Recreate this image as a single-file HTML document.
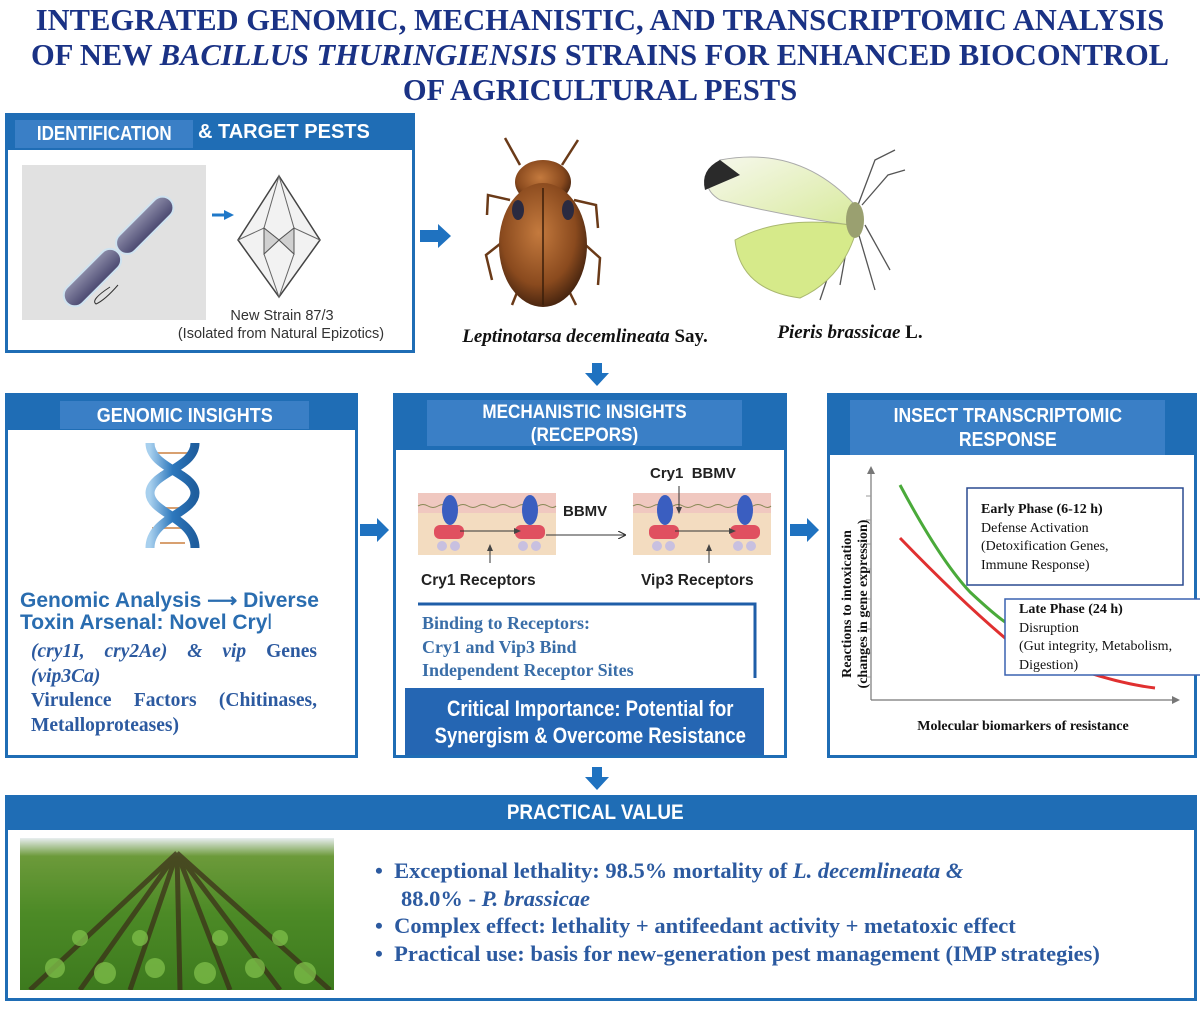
<!DOCTYPE html>
<html><head><meta charset="utf-8"><style>
*{margin:0;padding:0;box-sizing:border-box}
body{width:1200px;height:1013px;background:#fff;position:relative;overflow:hidden;font-family:"Liberation Sans",sans-serif}
.a{position:absolute}
.title{left:0;width:1200px;text-align:center;font:bold 30.5px/36px "Liberation Serif",serif;color:#1a3285;white-space:nowrap}
.box{position:absolute;border:3px solid #1f6db5;background:#fff}
.hd{position:absolute;background:#1f6db5}
.in{position:absolute;background:#3a7fc6;color:#fff;text-align:center;font-family:"Liberation Sans",sans-serif;font-weight:bold}
.serif{font-family:"Liberation Serif",serif}
</style></head><body>
<div class="a title" style="top:2px">INTEGRATED GENOMIC, MECHANISTIC, AND TRANSCRIPTOMIC ANALYSIS</div>
<div class="a title" style="top:37px">OF NEW <i>BACILLUS THURINGIENSIS</i> STRAINS FOR ENHANCED BIOCONTROL</div>
<div class="a title" style="top:72px">OF AGRICULTURAL PESTS</div>

<!-- Box 1 -->
<div class="box" style="left:5px;top:113px;width:410px;height:240px"></div>
<div class="hd" style="left:5px;top:113px;width:410px;height:37px"></div>
<div class="in" style="left:15px;top:120px;width:178px;height:28px;font-size:20px;line-height:29px"><span style="display:inline-block;transform:scaleX(.85)">IDENTIFICATION</span></div>
<div class="a" style="left:198px;top:121px;color:#fff;font:bold 20px 'Liberation Sans',sans-serif">&amp; TARGET PESTS</div>
<svg class="a" style="left:0;top:0" width="1200" height="1013">
 <defs>
  <linearGradient id="bac" x1="0" x2="0" y1="0" y2="1"><stop offset="0" stop-color="#8c8ca8"/><stop offset="1" stop-color="#4a4870"/></linearGradient>
  <radialGradient id="beet" cx=".45" cy=".4" r=".6"><stop offset="0" stop-color="#c47a3e"/><stop offset=".7" stop-color="#8a4a1e"/><stop offset="1" stop-color="#4a2610"/></radialGradient>
  <linearGradient id="wing" x1="0" x2="1" y1="0" y2="1"><stop offset="0" stop-color="#f7f8ee"/><stop offset="1" stop-color="#d8ea9c"/></linearGradient>
  <linearGradient id="dna" x1="0" x2="1"><stop offset="0" stop-color="#a8d0ee"/><stop offset=".5" stop-color="#2d78bd"/><stop offset="1" stop-color="#1f5e9e"/></linearGradient>
  <linearGradient id="field" x1="0" x2="0" y1="0" y2="1"><stop offset="0" stop-color="#e8eef0"/><stop offset=".12" stop-color="#6c9a3a"/><stop offset=".5" stop-color="#4c8a26"/><stop offset="1" stop-color="#3d7a1e"/></linearGradient>
  <marker id="ah" markerWidth="8" markerHeight="8" refX="7" refY="4" orient="auto"><path d="M0,0 L8,4 L0,8" fill="none" stroke="#333" stroke-width="1.2"/></marker>
  <marker id="ar" markerWidth="8" markerHeight="8" refX="6" refY="4" orient="auto"><path d="M0,1 L7,4 L0,7z" fill="#444"/></marker>
 </defs>
 <rect x="22" y="165" width="184" height="155" fill="#e1e1e1"/>
 <g transform="rotate(-45 120 250)">
  <rect x="45" y="239" width="72" height="22" rx="11" fill="url(#bac)" stroke="#cfe3f0" stroke-width="2"/>
  <rect x="119" y="239" width="72" height="22" rx="11" fill="url(#bac)" stroke="#cfe3f0" stroke-width="2"/>
 </g>
 <path d="M110,287 Q90,300 96,304 Q105,300 118,285" fill="none" stroke="#333" stroke-width="1"/>
 <path d="M212,215 L226,215" stroke="#1f78c8" stroke-width="3"/><path d="M224,210 L234,215 L224,220z" fill="#1f78c8"/>
 <path d="M279,176 L320,240 L279,297 L238,240z" fill="#f2f2f2" stroke="#444" stroke-width="1.5"/>
 <path d="M279,176 L264,228 L279,240 L294,228z M238,240 L264,228 L264,254 L279,297 L294,254 L294,228 L320,240 M264,254 L279,240 L294,254" fill="none" stroke="#666" stroke-width="1"/>
 <path d="M264,228 L279,240 L264,254z M294,228 L279,240 L294,254z" fill="#d0d0d0" stroke="#555"/>
 <path d="M420,230 L438,230 L438,224 L451,236 L438,248 L438,242 L420,242z" fill="#1f72c0"/>
 <g stroke="#6a3a18" stroke-width="2.5" fill="none">
  <path d="M520,165 L505,138"/><path d="M562,165 L578,140"/>
  <path d="M510,200 L488,195 L487,215"/><path d="M574,200 L596,205 L598,228"/>
  <path d="M505,240 L486,255 L492,280"/><path d="M580,240 L600,258 L598,285"/>
  <path d="M520,285 L512,305"/><path d="M566,285 L576,305"/>
 </g>
 <ellipse cx="543" cy="182" rx="28" ry="22" fill="url(#beet)"/>
 <ellipse cx="543" cy="245" rx="44" ry="62" fill="url(#beet)"/>
 <path d="M543,188 L543,305" stroke="#3a1e0a" stroke-width="1.5"/>
 <ellipse cx="518" cy="210" rx="6" ry="10" fill="#2a2a40"/><ellipse cx="568" cy="210" rx="6" ry="10" fill="#2a2a40"/>
 <g stroke="#555" stroke-width="1.3" fill="none">
  <path d="M858,205 L875,160 L895,150"/><path d="M862,205 L888,175 L905,170"/>
  <path d="M850,230 L840,285"/><path d="M858,232 L875,290"/><path d="M865,225 L890,270"/><path d="M845,226 L820,300"/>
 </g>
 <path d="M855,205 Q800,145 720,160 Q695,185 720,200 Q780,215 850,225z" fill="url(#wing)" stroke="#aaa"/>
 <path d="M720,160 Q700,170 705,190 L740,175z" fill="#2a2a2a"/>
 <path d="M850,225 Q780,215 735,240 Q740,290 800,298 Q840,280 855,235z" fill="#d6ea8a" stroke="#aab870"/>
 <ellipse cx="855" cy="220" rx="9" ry="18" fill="#9aa070"/>
</svg>
<div class="a" style="left:200px;top:308px;width:164px;text-align:center;font-size:14.5px;color:#333">New Strain 87/3</div>
<div class="a" style="left:150px;top:326px;width:262px;text-align:center;font-size:14.5px;color:#333">(Isolated from Natural Epizotics)</div>
<div class="a serif" style="left:430px;top:326px;width:310px;text-align:center;font-size:19px;font-weight:bold;color:#111"><i>Leptinotarsa decemlineata</i> Say.</div>
<div class="a serif" style="left:740px;top:322px;width:220px;text-align:center;font-size:19px;font-weight:bold;color:#111"><i>Pieris brassicae</i> L.</div>

<svg class="a" style="left:584px;top:363px" width="26" height="24"><path d="M8,0 L18,0 L18,10 L25,10 L13,23 L1,10 L8,10z" fill="#1f72c0"/></svg>
<svg class="a" style="left:584px;top:767px" width="26" height="24"><path d="M8,0 L18,0 L18,10 L25,10 L13,23 L1,10 L8,10z" fill="#1f72c0"/></svg>
<svg class="a" style="left:360px;top:518px" width="30" height="24"><path d="M0,6 L17,6 L17,0 L29,12 L17,24 L17,18 L0,18z" fill="#1f72c0"/></svg>
<svg class="a" style="left:790px;top:518px" width="30" height="24"><path d="M0,6 L17,6 L17,0 L29,12 L17,24 L17,18 L0,18z" fill="#1f72c0"/></svg>

<!-- Genomic -->
<div class="box" style="left:5px;top:393px;width:353px;height:365px"></div>
<div class="hd" style="left:5px;top:393px;width:353px;height:37px"></div>
<div class="in" style="left:60px;top:401px;width:249px;height:28px;font-size:20px;line-height:30px"><span style="display:inline-block;transform:scaleX(.9)">GENOMIC INSIGHTS</span></div>
<svg class="a" style="left:130px;top:438px" width="90" height="120">
 <g stroke="#d8a070" stroke-width="2"><line x1="22" y1="15" x2="62" y2="15"/><line x1="30" y1="35" x2="55" y2="35"/><line x1="30" y1="70" x2="55" y2="70"/><line x1="22" y1="90" x2="62" y2="90"/><line x1="30" y1="105" x2="55" y2="105"/></g>
 <path d="M20,5 C20,30 65,35 65,55 C65,75 20,80 20,110" fill="none" stroke="url(#dna)" stroke-width="9"/>
 <path d="M65,5 C65,30 20,35 20,55 C20,75 65,80 65,110" fill="none" stroke="url(#dna)" stroke-width="9"/>
</svg>
<div class="a" style="left:20px;top:590px;font-size:21px;font-weight:bold;color:#2a6db0;line-height:22px;white-space:nowrap">Genomic Analysis ⟶ Diverse<br>Toxin Arsenal: Novel Cry<span style="font-weight:normal">l</span></div>
<div class="a serif" style="left:31px;top:640px;width:286px;font-size:19.5px;font-weight:bold;color:#2c5aa0;line-height:24.5px;text-align:justify;text-align-last:left"><i>(cry1I, cry2Ae) &amp; vip</i> Genes <i>(vip3Ca)</i><br><span style="display:inline-block;width:286px;text-align:justify;text-align-last:justify">Virulence Factors (Chitinases,</span><br>Metalloproteases)</div>

<!-- Mechanistic -->
<div class="box" style="left:393px;top:393px;width:394px;height:365px"></div>
<div class="hd" style="left:393px;top:393px;width:394px;height:57px"></div>
<div class="in" style="left:427px;top:400px;width:315px;height:46px;font-size:19px;line-height:23px;padding-top:1px"><span style="display:inline-block;transform:scaleX(.9)">MECHANISTIC INSIGHTS<br>(RECEPORS)</span></div>
<svg class="a" style="left:0;top:0" width="1200" height="1013">
 <g id="mem">
  <rect x="418" y="493" width="138" height="62" fill="#f3dcc0"/>
  <rect x="418" y="493" width="138" height="20" fill="#f0c8c0"/>
  <path d="M418,506 q5,-3 10,0 t10,0 t10,0 t10,0 t10,0 t10,0 t10,0 t10,0 t10,0 t10,0 t10,0 t10,0 t10,0 t8,0" fill="none" stroke="#885" stroke-width="1"/>
  <ellipse cx="450" cy="510" rx="8" ry="15" fill="#3a5ec0"/><ellipse cx="530" cy="510" rx="8" ry="15" fill="#3a5ec0"/>
  <rect x="434" y="525" width="30" height="14" rx="6" fill="#e05060"/><rect x="515" y="525" width="30" height="14" rx="6" fill="#e05060"/>
  <circle cx="442" cy="546" r="5" fill="#c8c0e0"/><circle cx="455" cy="546" r="5" fill="#c8c0e0"/><circle cx="523" cy="546" r="5" fill="#c8c0e0"/><circle cx="536" cy="546" r="5" fill="#c8c0e0"/>
 </g>
 <use href="#mem" transform="translate(215,0)"/>
 <line x1="460" y1="531" x2="520" y2="531" stroke="#333" marker-end="url(#ar)"/>
 <line x1="546" y1="535" x2="625" y2="535" stroke="#333" marker-end="url(#ah)"/>
 <line x1="675" y1="531" x2="735" y2="531" stroke="#333" marker-end="url(#ar)"/>
 <line x1="490" y1="563" x2="490" y2="545" stroke="#333" marker-end="url(#ar)"/>
 <line x1="709" y1="563" x2="709" y2="545" stroke="#333" marker-end="url(#ar)"/>
 <line x1="679" y1="486" x2="679" y2="513" stroke="#333" marker-end="url(#ar)"/>
 <path d="M418,604 L755,604 L755,678" fill="none" stroke="#1f5ea8" stroke-width="3"/>
</svg>
<div class="a" style="left:563px;top:503px;font-size:15px;font-weight:bold;color:#222">BBMV</div>
<div class="a" style="left:650px;top:465px;font-size:15px;font-weight:bold;color:#222">Cry1&nbsp;&nbsp;BBMV</div>
<div class="a" style="left:421px;top:572px;font-size:15.5px;font-weight:bold;color:#222">Cry1 Receptors</div>
<div class="a" style="left:641px;top:572px;font-size:15.5px;font-weight:bold;color:#222">Vip3 Receptors</div>
<div class="a serif" style="left:422px;top:612px;font-size:18px;font-weight:bold;color:#3a6ea8;line-height:23.5px">Binding to Receptors:<br>Cry1 and Vip3 Bind<br>Independent Receptor Sites</div>
<div class="a" style="left:405px;top:688px;width:359px;height:67px;background:#2566b3;color:#fff;text-align:center;font-size:22px;font-weight:bold;line-height:27px;padding-top:7px;white-space:nowrap"><span style="display:inline-block;transform:scaleX(.84)">Critical Importance: Potential for<br>Synergism &amp; Overcome Resistance</span></div>

<!-- Transcriptomic -->
<div class="box" style="left:827px;top:393px;width:370px;height:365px"></div>
<div class="hd" style="left:827px;top:393px;width:370px;height:62px"></div>
<div class="in" style="left:850px;top:400px;width:315px;height:55px;font-size:20px;line-height:24px;padding-top:4px"><span style="display:inline-block;transform:scaleX(.88)">INSECT TRANSCRIPTOMIC<br>RESPONSE</span></div>
<svg class="a" style="left:0;top:0" width="1200" height="1013">
 <path d="M871,700 L871,472" stroke="#777" stroke-width="1.2"/><path d="M867,474 L871,466 L875,474z" fill="#777"/>
 <path d="M871,700 L1175,700" stroke="#777" stroke-width="1.2"/><path d="M1172,696 L1180,700 L1172,704z" fill="#777"/>
 <g stroke="#999"><line x1="866" y1="496" x2="871" y2="496"/><line x1="866" y1="520" x2="871" y2="520"/><line x1="866" y1="544" x2="871" y2="544"/><line x1="866" y1="569" x2="871" y2="569"/><line x1="866" y1="599" x2="871" y2="599"/><line x1="866" y1="629" x2="871" y2="629"/><line x1="866" y1="653" x2="871" y2="653"/><line x1="866" y1="677" x2="871" y2="677"/></g>
 <path d="M900,485 Q940,560 970,592 Q1000,620 1010,625" fill="none" stroke="#4aaa3a" stroke-width="3"/>
 <path d="M900,538 Q960,600 1005,638 Q1090,680 1155,688" fill="none" stroke="#e03030" stroke-width="3"/>
 <rect x="967" y="488" width="216" height="97" fill="#fff" stroke="#2a4a90" stroke-width="1.5"/>
 <rect x="1005" y="599" width="196" height="76" fill="#fff" stroke="#3a62b0" stroke-width="1.5"/>
 <text transform="translate(851,604) rotate(-90)" text-anchor="middle" font-family="Liberation Serif,serif" font-weight="bold" font-size="14" fill="#111">Reactions to intoxication</text>
 <text transform="translate(867,604) rotate(-90)" text-anchor="middle" font-family="Liberation Serif,serif" font-weight="bold" font-size="14" fill="#111">(changes in gene expression)</text>
</svg>
<div class="a serif" style="left:981px;top:501px;font-size:14px;line-height:18.5px;color:#111"><b>Early Phase (6-12 h)</b><br>Defense Activation<br>(Detoxification Genes,<br>Immune Response)</div>
<div class="a serif" style="left:1019px;top:601px;font-size:14px;line-height:18.5px;color:#111"><b>Late Phase (24 h)</b><br>Disruption<br>(Gut integrity, Metabolism,<br>Digestion)</div>
<div class="a serif" style="left:880px;top:719px;width:286px;text-align:center;font-size:14px;font-weight:bold;color:#111">Molecular biomarkers of resistance</div>

<!-- Practical -->
<div class="box" style="left:5px;top:795px;width:1192px;height:206px"></div>
<div class="hd" style="left:5px;top:795px;width:1192px;height:35px"></div>
<div class="a" style="left:0;top:801px;width:1190px;text-align:center;color:#fff;font-size:21px;font-weight:bold"><span style="display:inline-block;transform:scaleX(.9)">PRACTICAL VALUE</span></div>
<svg class="a" style="left:20px;top:838px" width="314" height="152">
 <rect width="314" height="152" fill="url(#field)"/>
 <g stroke="#3a2a18" stroke-width="5" opacity=".7">
  <line x1="157" y1="15" x2="60" y2="152"/><line x1="157" y1="15" x2="110" y2="152"/><line x1="157" y1="15" x2="160" y2="152"/><line x1="157" y1="15" x2="210" y2="152"/><line x1="157" y1="15" x2="260" y2="152"/><line x1="157" y1="15" x2="10" y2="152"/><line x1="157" y1="15" x2="310" y2="152"/>
 </g>
 <g fill="#7cbc48" opacity=".8"><circle cx="35" cy="130" r="10"/><circle cx="85" cy="135" r="11"/><circle cx="135" cy="130" r="10"/><circle cx="185" cy="135" r="11"/><circle cx="235" cy="130" r="10"/><circle cx="285" cy="135" r="11"/><circle cx="60" cy="100" r="8"/><circle cx="120" cy="100" r="8"/><circle cx="200" cy="100" r="8"/><circle cx="260" cy="100" r="8"/></g>
</svg>
<div class="a serif" style="left:375px;top:857px;font-size:22.5px;font-weight:bold;color:#2c5aa0;line-height:27.5px;white-space:nowrap">
<div>•&nbsp;&nbsp;Exceptional lethality: 98.5% mortality of <i>L. decemlineata &amp;</i></div>
<div style="padding-left:26px">88.0% - <i>P. brassicae</i></div>
<div>•&nbsp;&nbsp;Complex effect: lethality + antifeedant activity + metatoxic effect</div>
<div>•&nbsp;&nbsp;Practical use: basis for new-generation pest management (IMP strategies)</div>
</div>
</body></html>
